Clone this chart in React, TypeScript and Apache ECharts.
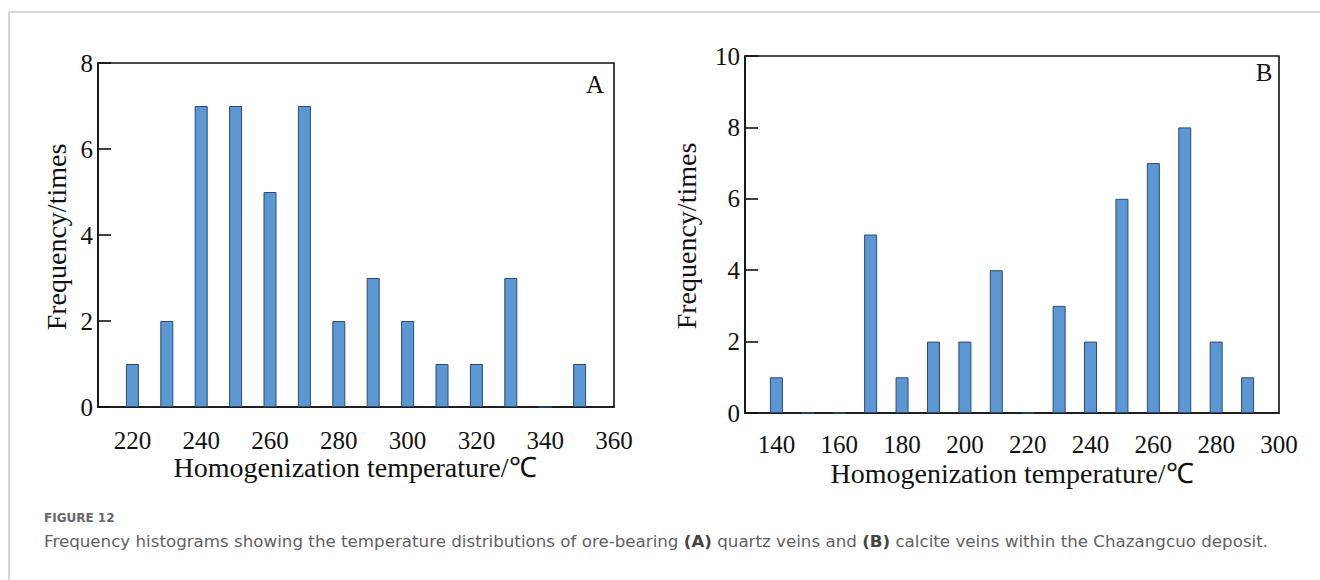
import React, { useEffect, useRef } from "react";
import * as echarts from "echarts";

// Panel A: quartz veins
const tempsA = [220, 230, 240, 250, 260, 270, 280, 290, 300, 310, 320, 330, 340, 350];
const freqA = [1, 2, 7, 7, 5, 7, 2, 3, 2, 1, 1, 3, 0, 1];
const xTicksA = [220, 240, 260, 280, 300, 320, 340, 360];

// Panel B: calcite veins
const tempsB = [140, 150, 160, 170, 180, 190, 200, 210, 220, 230, 240, 250, 260, 270, 280, 290];
const freqB = [1, 0, 0, 5, 1, 2, 2, 4, 0, 3, 2, 6, 7, 8, 2, 1];
const xTicksB = [140, 160, 180, 200, 220, 240, 260, 280, 300];

const xName = "Homogenization temperature/℃";
const yName = "Frequency/times";
const figLabel = "FIGURE 12";
const captionParts = [
  "Frequency histograms showing the temperature distributions of ore-bearing ",
  "(A)",
  " quartz veins and ",
  "(B)",
  " calcite veins within the Chazangcuo deposit.",
];

const SERIF = "'Liberation Serif', 'Times New Roman', serif";
const SANS = "'DejaVu Sans', 'Open Sans', sans-serif";
const BAR_FILL = "#5b97d3";
const BAR_EDGE = "#2c4a6e";
const INK = "#111111";

function xAxisCfg(gridIndex: number, min: number, max: number, ticks: number[], margin: number) {
  return {
    type: "value",
    gridIndex,
    min,
    max,
    axisLine: { show: true, lineStyle: { color: INK, width: 1.6 } },
    axisTick: { show: false },
    splitLine: { show: false },
    axisLabel: {
      customValues: ticks,
      margin,
      fontSize: 25,
      lineHeight: 20,
      fontFamily: SERIF,
      color: INK,
    },
  };
}

function yAxisCfg(gridIndex: number, max: number) {
  return {
    type: "value",
    gridIndex,
    min: 0,
    max,
    interval: 2,
    axisLine: { show: true, lineStyle: { color: INK, width: 1.6 } },
    axisTick: { show: true, inside: true, length: 13, lineStyle: { color: INK, width: 1.6 } },
    splitLine: { show: false },
    axisLabel: { margin: 5, fontSize: 25, lineHeight: 20, fontFamily: SERIF, color: INK },
  };
}

export default function App() {
  const ref = useRef<HTMLDivElement | null>(null);

  useEffect(() => {
    document.body.style.margin = "0";
    if (!ref.current) return;
    const chart = echarts.init(ref.current, null, { renderer: "svg" });

    const nameStyle = (text: string) => ({
      text,
      font: `28px ${SERIF}`,
      lineHeight: 24,
      fill: INK,
      align: "center",
      verticalAlign: "middle",
    });

    const option: any = {
      animation: false,
      backgroundColor: "#ffffff",
      grid: [
        { left: 98, top: 63, width: 516, height: 344, show: true, borderColor: INK, borderWidth: 1.6, backgroundColor: "transparent" },
        { left: 745, top: 56, width: 534, height: 357, show: true, borderColor: INK, borderWidth: 1.6, backgroundColor: "transparent" },
      ],
      xAxis: [xAxisCfg(0, 210, 360, xTicksA, 23), xAxisCfg(1, 130, 300, xTicksB, 21)],
      yAxis: [yAxisCfg(0, 8), yAxisCfg(1, 10)],
      series: [
        {
          type: "bar",
          xAxisIndex: 0,
          yAxisIndex: 0,
          barWidth: 13,
          data: tempsA.map((t, i) => [t, freqA[i]]),
          itemStyle: { color: BAR_FILL, borderColor: BAR_EDGE, borderWidth: 1 },
        },
        {
          type: "bar",
          xAxisIndex: 1,
          yAxisIndex: 1,
          barWidth: 13,
          data: tempsB.map((t, i) => [t, freqB[i]]),
          itemStyle: { color: BAR_FILL, borderColor: BAR_EDGE, borderWidth: 1 },
        },
      ],
      graphic: [
        // outer frame lines
        { type: "line", shape: { x1: 9, y1: 12, x2: 1320, y2: 12 }, style: { stroke: "#c8c8c8", lineWidth: 1.5 } },
        { type: "line", shape: { x1: 9, y1: 12, x2: 9, y2: 580 }, style: { stroke: "#c8c8c8", lineWidth: 1.5 } },
        // panel labels
        { type: "text", x: 595, y: 84, style: { text: "A", font: `25px ${SERIF}`, fill: INK, align: "center", verticalAlign: "middle" } },
        { type: "text", x: 1264, y: 72, style: { text: "B", font: `25px ${SERIF}`, fill: INK, align: "center", verticalAlign: "middle" } },
        // axis names A
        { type: "text", x: 355, y: 467, style: nameStyle(xName) },
        { type: "text", x: 56, y: 237, rotation: Math.PI / 2, style: nameStyle(yName) },
        // axis names B
        { type: "text", x: 1012, y: 473, style: nameStyle(xName) },
        { type: "text", x: 686, y: 236, rotation: Math.PI / 2, style: nameStyle(yName) },
        // caption
        { type: "text", x: 44, y: 518, style: { text: figLabel, font: `bold 12px ${SANS}`, fill: "#666666", align: "left", verticalAlign: "middle" } },
        {
          type: "text",
          x: 44,
          y: 541,
          style: {
            text: `${captionParts[0]}{b|${captionParts[1]}}${captionParts[2]}{b|${captionParts[3]}}${captionParts[4]}`,
            font: `16.7px ${SANS}`,
            fill: "#5f5f5f",
            align: "left",
            verticalAlign: "middle",
            rich: { b: { fontWeight: "bold", fontSize: 16.7, fontFamily: SANS, fill: "#444444" } },
          },
        },
      ],
    };

    chart.setOption(option);
    return () => chart.dispose();
  }, []);

  return <div ref={ref} style={{ width: 1320, height: 580 }} />;
}
